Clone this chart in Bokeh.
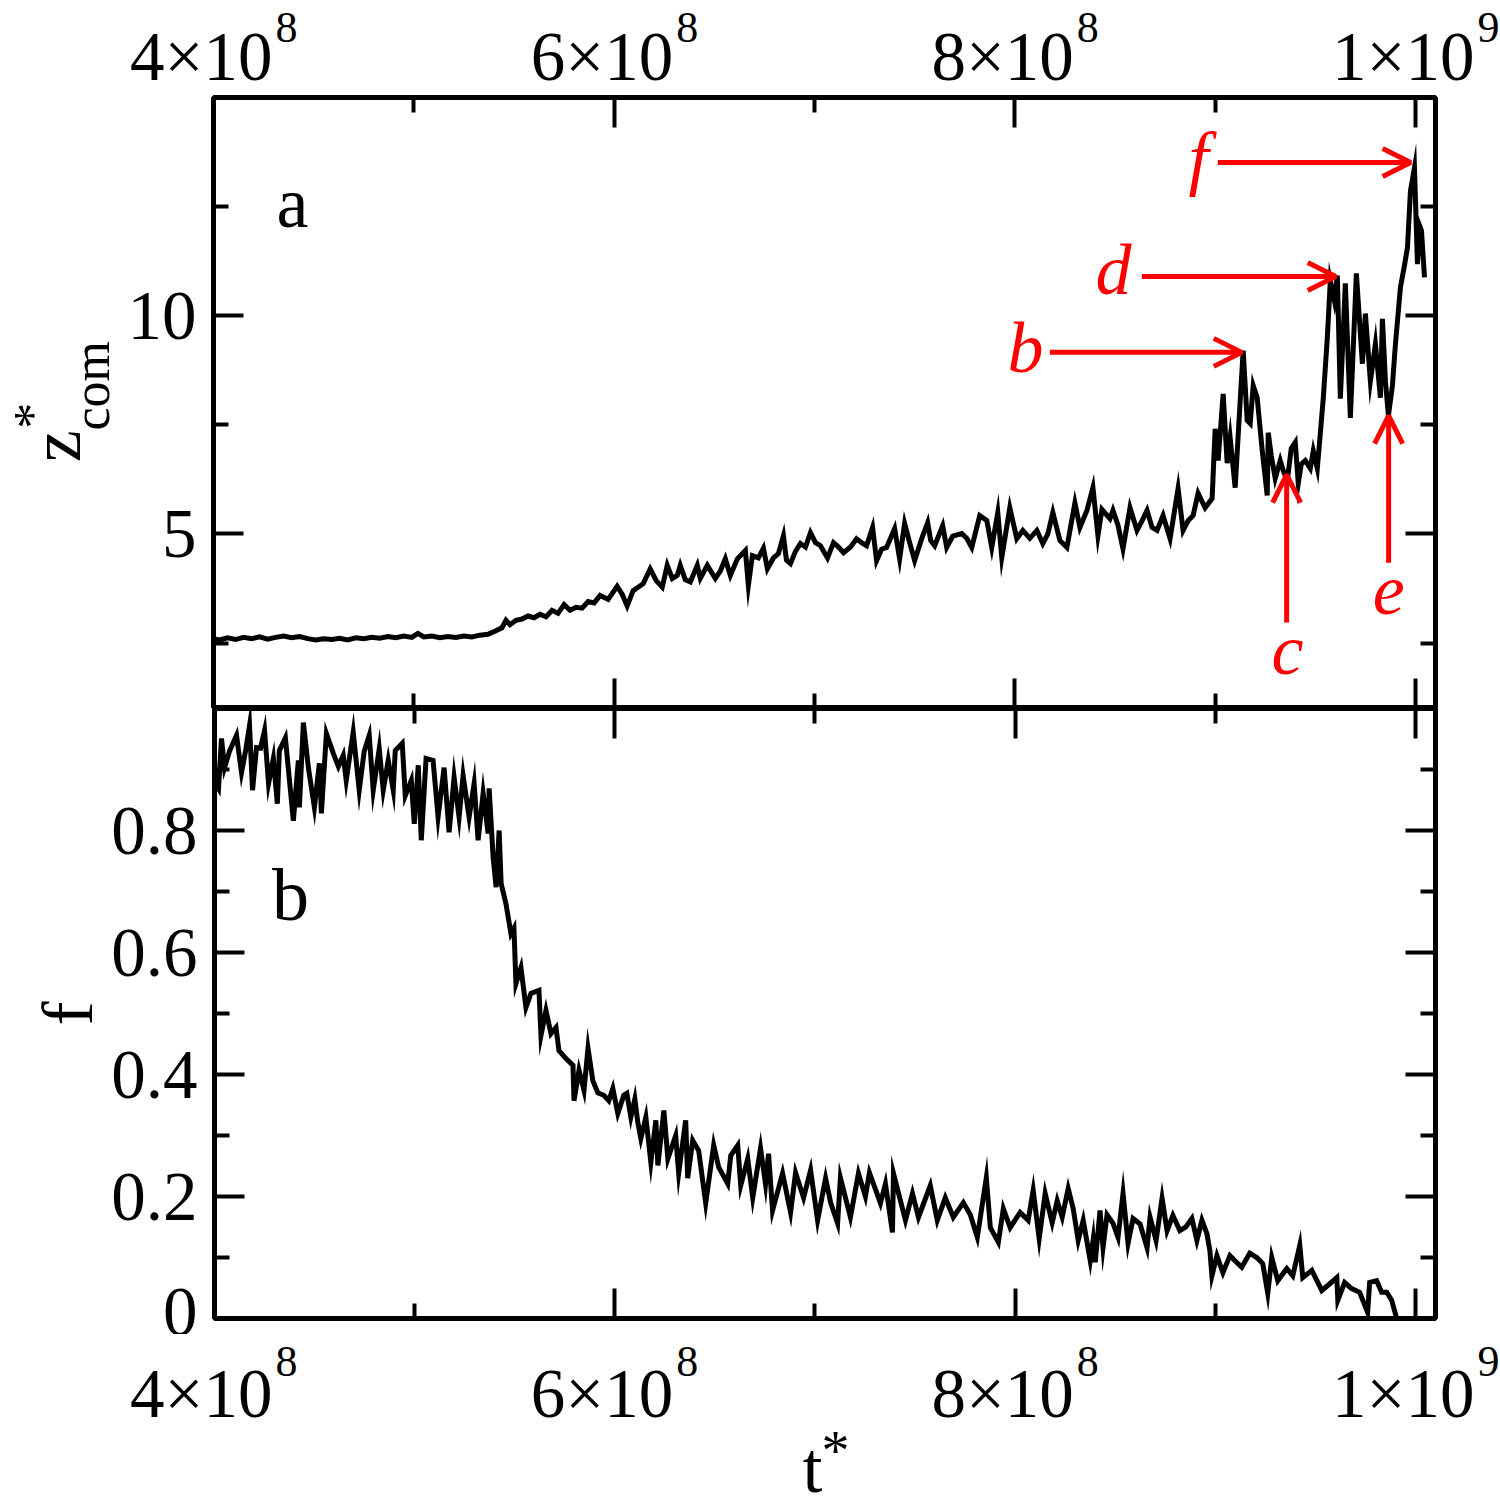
import math
from bokeh.plotting import figure
from bokeh.layouts import column, row
from bokeh.models import Range1d, FixedTicker, LinearAxis, Label, Arrow, OpenHead
from bokeh.embed import file_html
from bokeh.resources import INLINE

FONT = "Liberation Serif"

# ---------------- data (time in units of 1e6) ----------------
t_top = [400, 403, 407, 411, 415, 419, 423, 427, 431, 435, 439, 443, 447, 451, 455, 459, 463, 467,
         471, 475, 479, 483, 487, 491, 495, 499, 502, 505, 509, 513, 517, 521, 525, 529, 533, 537,
         541, 544, 546, 548, 551, 554, 557, 560, 563, 566, 569, 572, 575, 578, 581, 584, 587, 590,
         593.0, 597.0, 601.5, 604.0, 606.5, 609.5, 614.5, 618.0, 621.0, 624.0, 626.5, 629.0, 631.5,
         633.0, 635.5, 638.0, 641.5, 643.0, 646.5, 650.5, 653.0, 655.5, 658.0, 661.5, 665.5, 667.0,
         669.0, 672.0, 674.5, 676.5, 679.5, 682.0, 684.5, 686.0, 688.0, 690.5, 693.0, 695.5, 698.0,
         700.5, 703.0, 706.5, 709.5, 712.0, 714.5, 718.0, 721.0, 723.5, 726.0, 729.0, 731.0, 733.5,
         736.0, 740.0, 742.5, 745.0, 747.5, 750.0, 753.5, 756.5, 758.0, 760.0, 764.0, 766.0, 769.0,
         773.5, 776.0, 778.5, 782.5, 786.0, 788.5, 791.5, 793.5, 797.5, 801.0, 804.0, 807.5, 811.0,
         814.0, 816.5, 819.0, 822.5, 826.0, 830.0, 832.5, 836.0, 839.0, 841.5, 843.5, 847.5, 849.0,
         851.5, 854.0, 857.5, 861.0, 863.5, 866.0, 868.5, 871.0, 874.0, 877.5, 881.5, 884.0, 886.5,
         889.0, 891.5, 895.0, 898.5, 900.0, 901.5, 904.0, 906.0, 907.5, 910.0, 912.5, 914.0, 916.0,
         917.5, 919.0, 921.0, 923.5, 926.0, 926.5, 928.0, 930.0, 932.5, 934.0, 936.0, 938.0, 940.0,
         941.5, 943.0, 945.0, 947.5, 949.0, 951.0, 952.5, 954.0, 956.0, 957.5, 959.5, 961.0, 962.5,
         965.0, 967.5, 970.5, 973.5, 975.0, 977.5, 980.0, 982.5, 983.5, 985.0, 986.5, 988.5, 990.0,
         992.5, 994.5, 996.0, 997.5, 999.5, 1001.0, 1002.0, 1003.0, 1004.5]
z_top = [2.60, 2.57, 2.62, 2.58, 2.63, 2.60, 2.64, 2.59, 2.63, 2.66, 2.62, 2.65, 2.60, 2.57, 2.60, 2.58, 2.61, 2.57,
         2.62, 2.60, 2.63, 2.61, 2.65, 2.62, 2.66, 2.63, 2.72, 2.64, 2.66, 2.62, 2.65, 2.63, 2.66, 2.64, 2.68, 2.70,
         2.78, 2.85, 3.02, 2.92, 3.02, 3.05, 3.12, 3.08, 3.16, 3.10, 3.25, 3.18, 3.38, 3.25, 3.32, 3.30, 3.45, 3.42,
         3.59, 3.50, 3.80, 3.62, 3.35, 3.70, 3.86, 4.20, 3.93, 3.78, 4.28, 3.98, 4.05,
         4.28, 3.95, 3.90, 4.28, 3.98, 4.28, 3.98, 4.15, 4.43, 4.05, 4.43, 4.62, 3.82,
         4.50, 4.45, 4.67, 4.20, 4.45, 4.55, 4.96, 4.40, 4.32, 4.60, 4.78, 4.70, 5.03,
         4.80, 4.73, 4.45, 4.80, 4.70, 4.57, 4.70, 4.89, 4.80, 4.73, 5.15, 4.39, 4.65,
         4.69, 5.12, 4.43, 5.24, 4.80, 4.39, 4.89, 5.26, 4.85, 4.73, 5.19, 4.69, 4.95,
         5.01, 4.90, 4.69, 5.42, 5.31, 4.69, 5.49, 4.46, 5.60, 4.89, 5.08, 4.90, 5.08,
         4.78, 5.00, 5.49, 4.85, 4.69, 5.71, 5.15, 5.54, 6.06, 4.96, 5.56, 5.35, 5.54,
         5.20, 4.66, 5.60, 5.08, 5.30, 5.54, 5.15, 5.08, 5.42, 4.89, 6.04, 5.08, 5.30,
         5.42, 5.93, 5.60, 5.81, 7.41, 6.68, 8.21, 6.62, 7.20, 6.06, 8.05, 9.20, 7.60,
         7.53, 8.40, 8.12, 6.91, 5.88, 7.32, 6.80, 6.27, 6.68, 6.45, 6.22, 6.96, 7.10,
         6.16, 6.60, 6.68, 6.50, 6.90, 6.50, 7.30, 8.12, 9.50, 10.80, 10.35, 10.92, 8.10,
         10.74, 7.66, 10.97, 8.90, 10.05, 8.50, 9.35, 8.12, 9.93, 8.50, 7.71, 8.40, 9.35,
         10.65, 11.15, 11.56, 12.86, 13.39, 11.18, 12.07, 11.95, 10.88]

t_bot = [400.0, 402.0, 403.5, 405.0, 407.5, 411.0, 413.5, 415.5, 417.5, 419.0, 421.0, 423.0, 425.0, 427.0,
         429.4, 431.4, 432.4, 435.4, 439.4, 441.9, 442.4, 444.4, 446.9, 449.9, 452.4, 453.4, 455.9, 459.4,
         461.9, 464.3, 465.8, 469.3, 472.3, 474.8, 477.3, 479.3, 482.3, 484.3, 486.8, 489.3, 490.3, 493.8,
         495.3, 498.3, 499.8, 501.8, 503.3, 505.7, 509.2, 511.7, 514.7, 517.2, 519.7, 522.2, 524.2, 527.2,
         529.7, 531.7, 534.2, 536.7, 537.2, 539.2, 540.7, 542.2, 543.2, 545.6, 548.1, 549.6, 550.6, 553.1,
         555.6, 558.1, 562.1, 563.1, 565.6, 568.1, 570.6, 572.1, 575.6, 579.1, 579.6, 582.1, 584.6, 586.6,
         589.0, 591.5, 594.5, 597.0, 599.0, 601.5, 604.5, 606.0, 608.0, 610.0, 611.5, 613.0, 615.5, 618.0,
         620.5, 621.5, 624.5, 626.5, 630.4, 631.9, 635.4, 636.4, 638.9, 641.9, 645.4, 649.4, 651.9, 656.4,
         657.9, 661.4, 662.9, 666.4, 668.9, 672.8, 675.3, 676.8, 678.8, 683.8, 687.8, 690.3, 694.3, 697.8,
         701.3, 705.3, 707.8, 711.3, 712.7, 717.7, 721.7, 725.2, 727.2, 732.7, 735.2, 738.7, 739.2, 745.2,
         748.7, 751.7, 757.6, 761.1, 765.1, 769.1, 774.1, 777.6, 781.1, 785.6, 787.6, 791.6, 794.1, 797.5,
         802.5, 806.5, 809.0, 812.0, 815.0, 818.5, 821.0, 823.5, 826.5, 829.0, 831.5, 834.0, 837.5, 839.0,
         840.0, 842.4, 843.9, 845.9, 848.9, 851.4, 853.9, 856.4, 858.9, 862.4, 865.9, 867.4, 870.4, 873.4,
         875.9, 878.8, 882.3, 885.3, 888.3, 890.8, 893.3, 895.8, 897.3, 898.3, 900.8, 903.8, 907.3, 909.7,
         913.2, 917.2, 920.7, 923.7, 926.2, 928.2, 931.2, 935.7, 938.7, 942.2, 943.7, 948.2, 953.2, 957.2,
         960.7, 961.2, 964.6, 968.1, 972.1, 976.1, 977.1, 980.6, 983.1, 985.6, 988.1, 990.6, 1004.5]
f_bot = [0.88, 0.869, 0.951, 0.903, 0.93, 0.956, 0.895, 0.93, 0.972, 0.866, 0.936, 0.935, 0.964, 0.877,
         0.918, 0.844, 0.931, 0.952, 0.816, 0.915, 0.838, 0.977, 0.903, 0.838, 0.910, 0.828, 0.959, 0.926,
         0.905, 0.923, 0.882, 0.961, 0.866, 0.93, 0.956, 0.866, 0.934, 0.866, 0.915, 0.866, 0.931, 0.943,
         0.857, 0.882, 0.811, 0.907, 0.784, 0.918, 0.915, 0.822, 0.903, 0.797, 0.887, 0.822, 0.890, 0.822,
         0.877, 0.784, 0.861, 0.795, 0.869, 0.756, 0.707, 0.80, 0.713, 0.680, 0.631, 0.64, 0.549, 0.575,
         0.510, 0.533, 0.538, 0.464, 0.505, 0.467, 0.477, 0.439, 0.426, 0.415, 0.357, 0.407, 0.374, 0.443,
         0.390, 0.370, 0.366, 0.357, 0.377, 0.336, 0.366, 0.369, 0.330, 0.36, 0.321, 0.295, 0.330, 0.256,
         0.325, 0.251, 0.341, 0.262, 0.300, 0.238, 0.325, 0.230, 0.292, 0.275, 0.189, 0.284, 0.248, 0.221,
         0.267, 0.284, 0.218, 0.262, 0.198, 0.279, 0.220, 0.270, 0.177, 0.238, 0.174, 0.239, 0.198, 0.243,
         0.161, 0.230, 0.190, 0.156, 0.231, 0.166, 0.238, 0.200, 0.239, 0.189, 0.221, 0.141, 0.238, 0.161,
         0.205, 0.166, 0.218, 0.161, 0.198, 0.166, 0.190, 0.170, 0.133, 0.231, 0.149, 0.125, 0.180, 0.149,
         0.174, 0.161, 0.210, 0.131, 0.205, 0.157, 0.193, 0.166, 0.213, 0.180, 0.128, 0.161, 0.095, 0.130,
         0.092, 0.177, 0.116, 0.170, 0.156, 0.133, 0.205, 0.123, 0.164, 0.155, 0.116, 0.166, 0.128, 0.197,
         0.144, 0.169, 0.144, 0.150, 0.164, 0.128, 0.161, 0.139, 0.111, 0.070, 0.103, 0.075, 0.103, 0.095,
         0.084, 0.107, 0.100, 0.090, 0.041, 0.100, 0.062, 0.082, 0.070, 0.120, 0.067, 0.079, 0.046, 0.057,
         0.067, 0.030, 0.059, 0.049, 0.043, 0.010, 0.059, 0.062, 0.043, 0.043, 0.030, 0.0, 0.0]

# ---------------- axes ----------------
x_start, x_end = 400, 1010
z_start, z_end = 1.0, 15.0
f_start, f_end = 0.0, 1.0
x_major = [400, 600, 800, 1000]
x_minor = [500, 700, 900]
x_mant = ["4×10", "6×10", "8×10", "1×10"]
x_exp = ["8", "8", "8", "9"]
z_major = [5, 10]
z_minor = [2.5, 7.5, 12.5]
f_major = [0, 0.2, 0.4, 0.6, 0.8]
f_minor = [0.1, 0.3, 0.5, 0.7, 0.9]
f_ticklabels = ["0", "0.2", "0.4", "0.6", "0.8"]

# ---------------- red annotations (top panel) ----------------
ann_letter = ["b", "d", "f", "c", "e"]
ann_lx = [805.3, 849.3, 891.7, 936.1, 986.6]
ann_ly = [8.76, 10.53, 13.10, 1.82, 3.20]
arr_x0 = [817.5, 863.4, 901.3, 935.7, 986.6]
arr_y0 = [9.16, 10.90, 13.51, 2.97, 4.34]
arr_x1 = [913.3, 960.2, 997.6, 935.7, 986.6]
arr_y1 = [9.16, 10.90, 13.51, 6.36, 7.71]

RED = "#ff0000"
TICK_FS = 69
EXP_FS = 44
BASE_FIX = 0.31   # Bokeh draws "alphabetic" labels this many em below the anchor

# ---------------- layout geometry (pixels) ----------------
PAGE_W = 1500
PAGE_H = 1512
FRAME_L = 213         # page x of the frames' left edge
FRAME_W = 1222
P_RIGHT = PAGE_W - FRAME_L - FRAME_W
LT = 120              # left strip width beside the top panel
LB = 108              # left strip width beside the bottom panel
TOP_H = 94
EDGE_T = 3
FRAME1_H = 611
FRAME2_H = 610
EDGE_B = 16
BOT_H = PAGE_H - TOP_H - EDGE_T - FRAME1_H - FRAME2_H - EDGE_B
S = FRAME_W / (x_end - x_start)   # px per x unit


def style_axis(ax, ticker, show_labels=False, overrides=None):
    ax.ticker = ticker
    ax.axis_line_color = None
    ax.major_tick_in = 30
    ax.major_tick_out = 0
    ax.minor_tick_in = 15
    ax.minor_tick_out = 0
    ax.major_tick_line_width = 4
    ax.minor_tick_line_width = 4
    ax.major_tick_line_color = "black"
    ax.minor_tick_line_color = "black"
    if show_labels:
        ax.major_label_text_font = FONT
        ax.major_label_text_font_size = f"{TICK_FS}px"
        ax.major_label_text_color = "black"
        ax.major_label_standoff = 17
        if overrides:
            ax.major_label_overrides = overrides
    else:
        ax.major_label_text_color = None
        ax.major_label_standoff = 0
    return ax


def make_fig(left, height, yr, top, bottom):
    p = figure(width=left + FRAME_W + P_RIGHT, height=height, x_range=xr, y_range=yr,
               output_backend="svg", toolbar_location=None,
               x_axis_location=None, y_axis_location=None,
               min_border_left=left, min_border_right=P_RIGHT,
               min_border_top=top, min_border_bottom=bottom,
               outline_line_color="black", outline_line_width=5,
               background_fill_color="white", border_fill_color="white")
    p.frame_align = False
    p.xgrid.visible = False
    p.ygrid.visible = False
    return p


def make_strip(width, height, xrange, yrange, top=0, bottom=0):
    s = figure(width=width, height=height, x_range=xrange, y_range=yrange,
               output_backend="svg", toolbar_location=None,
               x_axis_location=None, y_axis_location=None,
               min_border=0, min_border_left=0, min_border_right=0,
               min_border_top=top, min_border_bottom=bottom, outline_line_color=None,
               background_fill_color="white", border_fill_color="white")
    s.frame_align = False
    s.xgrid.visible = False
    s.ygrid.visible = False
    return s


def txt(fig, x, y, text, fs, align="center", vertical=False, x_offset=0, y_offset=0,
        style="normal", color="black"):
    fix = BASE_FIX * fs
    if vertical:
        x_offset -= fix
        angle = math.pi / 2
    else:
        y_offset += fix
        angle = 0.0
    fig.add_layout(Label(x=x, y=y, text=text, x_offset=x_offset, y_offset=y_offset, angle=angle,
                         text_align=align, text_baseline="alphabetic",
                         text_font=FONT, text_font_size=f"{fs}px", text_font_style=style,
                         text_color=color))


xr = Range1d(x_start, x_end)
zr = Range1d(z_start, z_end)
fr = Range1d(f_start, f_end)

# ---------- top panel ----------
p1 = make_fig(FRAME_L - LT, EDGE_T + FRAME1_H, zr, EDGE_T, 0)
p1.add_layout(style_axis(LinearAxis(), FixedTicker(ticks=z_major, minor_ticks=z_minor), True), "left")
p1.add_layout(style_axis(LinearAxis(), FixedTicker(ticks=z_major, minor_ticks=z_minor)), "right")
p1.add_layout(style_axis(LinearAxis(), FixedTicker(ticks=x_major, minor_ticks=x_minor)), "above")
p1.add_layout(style_axis(LinearAxis(), FixedTicker(ticks=x_major, minor_ticks=x_minor)), "below")
p1.line(t_top, z_top, line_color="black", line_width=5, line_join="miter")
txt(p1, x_start, 12.07, "a", 72, x_offset=79)
for x0, y0, x1, y1 in zip(arr_x0, arr_y0, arr_x1, arr_y1):
    p1.add_layout(Arrow(end=OpenHead(size=28, line_color=RED, line_width=5),
                        x_start=x0, y_start=y0, x_end=x1, y_end=y1,
                        line_color=RED, line_width=5))
for letter, lx, ly in zip(ann_letter, ann_lx, ann_ly):
    txt(p1, lx, ly, letter, 72, style="italic", color=RED)

# ---------- bottom panel ----------
p2 = make_fig(FRAME_L - LB, FRAME2_H + EDGE_B, fr, 0, EDGE_B)
f_over = {v: s for v, s in zip(f_major, f_ticklabels)}
p2.add_layout(style_axis(LinearAxis(), FixedTicker(ticks=f_major, minor_ticks=f_minor), True, f_over), "left")
p2.add_layout(style_axis(LinearAxis(), FixedTicker(ticks=f_major, minor_ticks=f_minor)), "right")
p2.add_layout(style_axis(LinearAxis(), FixedTicker(ticks=x_major, minor_ticks=x_minor)), "above")
p2.add_layout(style_axis(LinearAxis(), FixedTicker(ticks=x_major, minor_ticks=x_minor)), "below")
p2.line(t_bot, f_bot, line_color="black", line_width=5, line_join="miter")
txt(p2, x_start, 0.656, "b", 74, x_offset=76)

# ---------- strips carrying the texts outside the frames ----------
strip_xr = Range1d(x_start - FRAME_L / S, x_end + P_RIGHT / S)
# top strip: y = pixels above the top frame edge
top_strip = make_strip(PAGE_W, TOP_H, strip_xr, Range1d(EDGE_T, EDGE_T + TOP_H))
for xm, mant, ex in zip(x_major, x_mant, x_exp):
    txt(top_strip, xm, 19, mant, TICK_FS, align="right", x_offset=59)
    txt(top_strip, xm, 56, ex, EXP_FS, align="left", x_offset=62)

# bottom strip: y = minus pixels below the bottom frame edge
bot_strip = make_strip(PAGE_W, BOT_H, strip_xr, Range1d(-(EDGE_B + BOT_H), -EDGE_B))
for xm, mant, ex in zip(x_major, x_mant, x_exp):
    txt(bot_strip, xm, -97, mant, TICK_FS, align="right", x_offset=59)
    txt(bot_strip, xm, -57, ex, EXP_FS, align="left", x_offset=62)
txt(bot_strip, 699.0, -172, "t", 72)
txt(bot_strip, 710.5, -150, "*", 56)

# left strips: x = pixels from the frame's left edge, y shares the panel's data range
ls_top = make_strip(LT, EDGE_T + FRAME1_H, Range1d(-FRAME_L, LT - FRAME_L), zr, top=EDGE_T)
txt(ls_top, -135, 6.64, "z", 72, align="left", vertical=True)
txt(ls_top, -106, 7.37, "com", 52, align="left", vertical=True)
txt(ls_top, -165, 7.71, "*", 52, align="center", vertical=True)
ls_bot = make_strip(LB, FRAME2_H + EDGE_B, Range1d(-FRAME_L, LB - FRAME_L), fr, bottom=EDGE_B)
txt(ls_bot, -123, 0.5, "f", 72, align="center", vertical=True)

layout = column(top_strip,
                row(ls_top, p1, spacing=0),
                row(ls_bot, p2, spacing=0),
                bot_strip, spacing=0)
open("out.html", "w").write(file_html(layout, INLINE))
